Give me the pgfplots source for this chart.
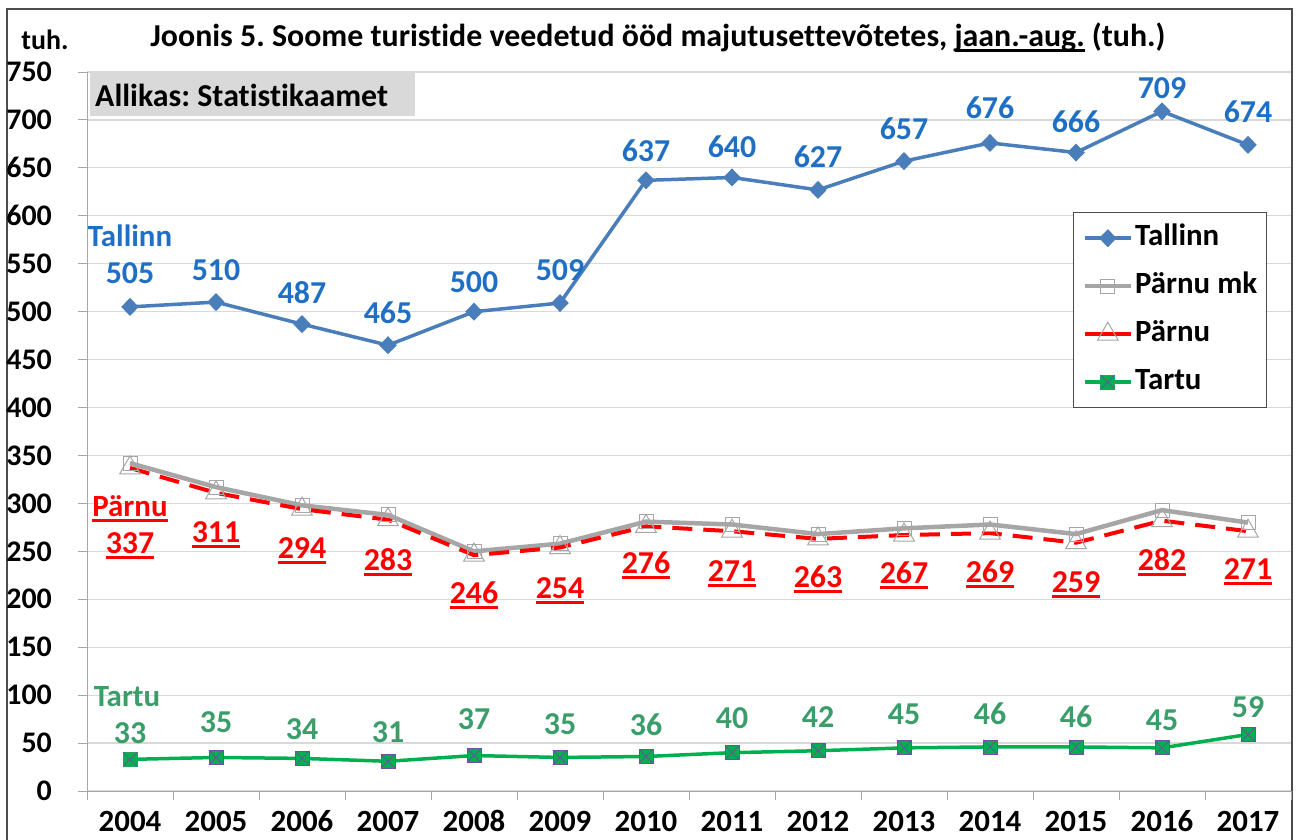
\documentclass[border=0pt]{standalone}
\usepackage{fontspec}
\setmainfont{Carlito}[Ligatures=NoCommon]
\usepackage{pgfplots}
\usepackage{pgfplotstable}
\pgfplotsset{compat=1.18}
\frenchspacing

\definecolor{tallline}{HTML}{4A7EBB}
\definecolor{talltext}{HTML}{1F6FC5}
\definecolor{mkgray}{HTML}{A6A6A6}
\definecolor{tartline}{HTML}{00B050}
\definecolor{tarttext}{HTML}{3A9D6A}
\definecolor{xpurple}{HTML}{7050A0}
\definecolor{gridgray}{HTML}{D9D9D9}
\definecolor{boxgray}{HTML}{D9D9D9}

\newcommand\fs[1]{\fontsize{#1}{#1}\selectfont}
\newcommand\ul[2][3bp]{\setbox0\hbox{#2}\rlap{\rule[-5.5bp]{\wd0}{#1}}\box0\relax}

\pgfdeclareplotmark{sqx}{%
  \pgfpathrectangle{\pgfqpoint{-\pgfplotmarksize}{-\pgfplotmarksize}}{\pgfqpoint{2\pgfplotmarksize}{2\pgfplotmarksize}}%
  \pgfusepathqfillstroke
  \pgfsetlinewidth{0.8bp}\pgfsetstrokecolor{xpurple}%
  \pgfpathmoveto{\pgfqpoint{-\pgfplotmarksize}{-\pgfplotmarksize}}\pgfpathlineto{\pgfqpoint{\pgfplotmarksize}{\pgfplotmarksize}}%
  \pgfpathmoveto{\pgfqpoint{-\pgfplotmarksize}{\pgfplotmarksize}}\pgfpathlineto{\pgfqpoint{\pgfplotmarksize}{-\pgfplotmarksize}}%
  \pgfusepathqstroke}

% x = year index (0 = 2004), dy = label offset in bp
\pgfplotstableread{
x y dy
0 505 34
1 510 32
2 487 32
3 465 32
4 500 30
5 509 33
6 637 30
7 640 31
8 627 33
9 657 32
10 676 35
11 666 31
12 709 23
13 674 33
}\tallinn

\pgfplotstableread{
x y
0 342
1 317
2 298
3 288
4 250
5 258
6 281
7 278
8 268
9 274
10 278
11 268
12 293
13 280
}\parnumk

\pgfplotstableread{
x y dy
0 337 -78
1 311 -41.5
2 294 -42
3 283 -42.5
4 246 -40.5
5 254 -43
6 276 -39
7 271 -42.5
8 263 -40.5
9 267 -40.5
10 269 -41.5
11 259 -42.5
12 282 -42
13 271 -40.5
}\parnu

\pgfplotstableread{
x y dy
0 33 26
1 35 35
2 34 29
3 31 29
4 37 36
5 35 33
6 36 32
7 40 35
8 42 34
9 45 34
10 46 33
11 46 30
12 45 28
13 59 27
}\tartu

\begin{document}
\begin{tikzpicture}
\useasboundingbox (0,0) rectangle (1298bp,-840bp);
% chart frame
\draw[line width=1.2bp, black!70] (7bp,-850bp) -- (7bp,-9bp) -- (1292bp,-9bp) -- (1292bp,-850bp);

\begin{axis}[
    at={(87bp,-791bp)}, anchor=south west,
    scale only axis,
    width=1204bp, height=719bp,
    xmin=-0.5, xmax=13.5,
    ymin=0, ymax=750,
    xtick={0,...,13},
    xticklabels={2004,2005,2006,2007,2008,2009,2010,2011,2012,2013,2014,2015,2016,2017},
    minor xtick={-0.5,0.5,...,13.5},
    ytick={0,50,...,750},
    axis x line*=bottom, axis y line*=left,
    axis line style={-, draw=black!35, line width=1bp},
    tick align=outside,
    major tick length=9bp, minor tick length=9bp,
    major x tick style={draw=none},
    minor x tick style={draw=black!35, line width=1bp},
    major y tick style={draw=black!35, line width=1bp},
    ymajorgrids,
    grid style={gridgray, line width=1.2bp},
    /pgf/number format/assume math mode=true,
    yticklabel style={font=\fs{30}\bfseries, inner sep=0pt, xshift=-26bp},
    xticklabel style={font=\fs{31}\bfseries, inner sep=0pt, anchor=north,
        text height=19.5bp, text depth=0bp, yshift=-12bp},
    clip=false,
    legend style={at={(0.819,0.805)}, anchor=north west, draw=black!70,
        line width=1bp, fill=white, font=\fs{31}\bfseries,
        inner xsep=9bp, inner ysep=11bp, row sep=19bp,
        nodes={inner sep=0pt, text height=22bp, text depth=7bp},
        /tikz/every odd column/.append style={column sep=2bp},
        cells={anchor=west}},
    legend image code/.code={%
        \draw[mark repeat=2, mark phase=2, #1] plot coordinates {(0bp,0bp) (23bp,0bp) (46bp,0bp)};},
    lbl/.style={draw=none, mark=none, forget plot, nodes near coords,
        point meta=explicit symbolic,
        every node near coord/.append style={anchor=center, inner sep=0pt, font=\fs{32}\bfseries}},
]
\addplot[tallline, line width=3.5bp, mark=diamond*, mark size=6.5bp,
    mark options={solid, fill=tallline, xscale=1.3}]
    table[x=x, y=y] {\tallinn};
\addlegendentry{Tallinn}

\addplot[mkgray, line width=4.5bp, mark=square, mark size=7bp,
    mark options={solid, line width=1bp, draw=mkgray}]
    table[x=x, y=y] {\parnumk};
\addlegendentry{Pärnu mk}

\addplot[red, line width=4bp, dash pattern=on 20bp off 11bp, mark=triangle, mark size=12bp,
    mark options={solid, line width=1bp, draw=mkgray},
    legend image post style={solid}]
    table[x=x, y=y] {\parnu};
\addlegendentry{Pärnu}

\addplot[tartline, line width=3.5bp, mark=sqx, mark size=7bp,
    mark options={solid, line width=1bp, draw=tartline!70!gray, fill=tartline}]
    table[x=x, y=y] {\tartu};
\addlegendentry{Tartu}

% data labels (offset dy is in bp; 719bp span 750 units)
\addplot[lbl, every node near coord/.append style={text=talltext}]
    table[x=x, y expr=\thisrow{y}+\thisrow{dy}/0.95867, meta=y] {\tallinn};
\addplot[lbl, nodes near coords={\ul{\pgfplotspointmeta}},
    every node near coord/.append style={text=red}]
    table[x=x, y expr=\thisrow{y}+\thisrow{dy}/0.95867, meta=y] {\parnu};
\addplot[lbl, every node near coord/.append style={text=tarttext}]
    table[x=x, y expr=\thisrow{y}+\thisrow{dy}/0.95867, meta=y] {\tartu};
\end{axis}

% title and texts
\node[font=\fs{32}\bfseries, inner sep=0pt] at (658bp,-37bp)
    {Joonis 5. Soome turistide veedetud ööd majutusettevõtetes, \ul[2.5bp]{jaan.-aug.} (tuh.)};
\node[font=\fs{28}\bfseries, inner sep=0pt] at (45bp,-40bp) {tuh.};
\fill[boxgray] (90bp,-73bp) rectangle (415bp,-116bp);
\node[font=\fs{32}\bfseries, inner sep=0pt, anchor=west] at (95bp,-95bp) {Allikas: Statistikaamet};
\node[font=\fs{31}\bfseries, text=talltext, inner sep=0pt, anchor=base] at (130bp,-246bp) {Tallinn};
\node[font=\fs{31}\bfseries, text=red, inner sep=0pt, anchor=base] at (130bp,-516bp) {\ul{Pärnu}};
\node[font=\fs{31}\bfseries, text=tarttext, inner sep=0pt, anchor=base] at (127bp,-706bp) {Tartu};
\end{tikzpicture}
\end{document}
